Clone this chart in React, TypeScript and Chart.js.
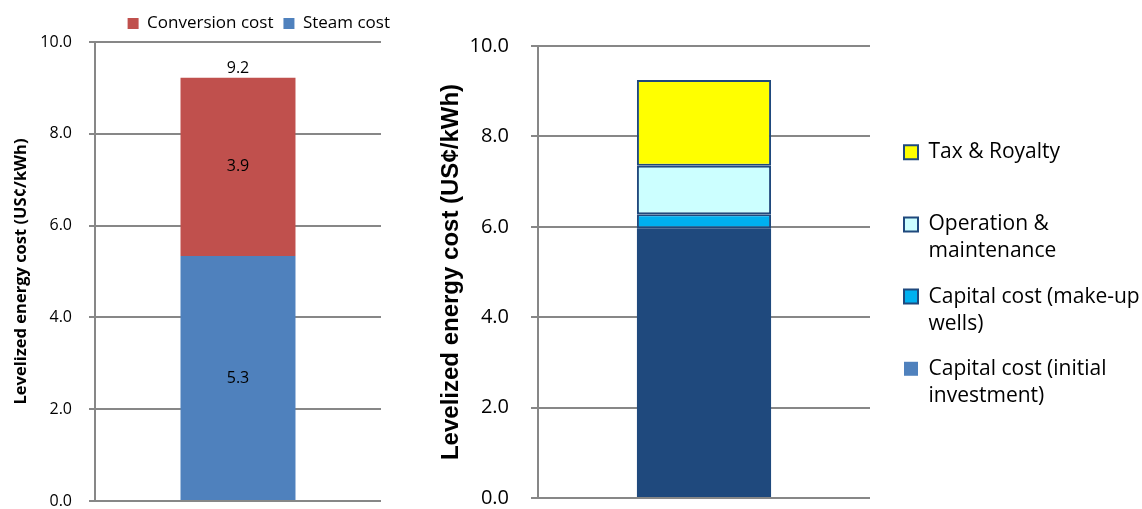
import React, { useEffect, useRef } from "react";
import { Chart, registerables } from "chart.js";

Chart.register(...registerables);

// ---------- Data: left chart ----------
const leftCategories = ["Plant"];
const steamCost = [5.34];
const conversionCost = [3.88];
const leftSeriesNames = ["Steam cost", "Conversion cost"];
const leftColors = ["#4F81BD", "#C0504D"];

// ---------- Data: right chart ----------
const rightCategories = ["Plant"];
const capitalInitial = [5.97];
const capitalMakeup = [0.31];
const operationMaintenance = [1.07];
const taxRoyalty = [1.9];
const rightSeriesNames = [
  "Capital cost (initial investment)",
  "Capital cost (make-up wells)",
  "Operation & maintenance",
  "Tax & Royalty",
];
const rightLegendLines = [
  ["Capital cost (initial", "investment)"],
  ["Capital cost (make-up", "wells)"],
  ["Operation &", "maintenance"],
  ["Tax & Royalty", " "],
];
const rightFill = ["#1F497D", "#00B0F0", "#CCFFFF", "#FFFF00"];
const rightLegendFill = ["#4F81BD", "#00B0F0", "#CCFFFF", "#FFFF00"];

const yAxisTitle = "Levelized energy cost (US¢/kWh)";
const yMin = 0;
const yMax = 10;
const yStep = 2;

const GRID = "#878787";

const valueLabels = {
  id: "valueLabels",
  afterDatasetsDraw(chart: any) {
    const ctx = chart.ctx;
    ctx.save();
    ctx.font = '16px "Open Sans"';
    ctx.fillStyle = "#000";
    ctx.textAlign = "center";
    ctx.textBaseline = "middle";
    let top = Infinity;
    let cx = 0;
    const totals: number[] = [];
    chart.data.datasets.forEach((ds: any, i: number) => {
      const meta = chart.getDatasetMeta(i);
      meta.data.forEach((el: any, j: number) => {
        const v = ds.data[j];
        totals[j] = (totals[j] || 0) + v;
        const p = el.getProps(["x", "y", "base"], true);
        ctx.fillText(v.toFixed(1), p.x, (p.y + p.base) / 2);
        if (p.y < top) {
          top = p.y;
          cx = p.x;
        }
      });
    });
    if (totals.length) ctx.fillText(totals[0].toFixed(1), cx, top - 9);
    ctx.restore();
  },
};

function LeftChart() {
  const ref = useRef<HTMLCanvasElement>(null);
  useEffect(() => {
    const chart = new Chart(ref.current as HTMLCanvasElement, {
      type: "bar",
      data: {
        labels: leftCategories,
        datasets: [
          {
            label: leftSeriesNames[0],
            data: steamCost,
            backgroundColor: leftColors[0],
            borderWidth: 0,
            categoryPercentage: 1,
            barPercentage: 0.402,
          },
          {
            label: leftSeriesNames[1],
            data: conversionCost,
            backgroundColor: leftColors[1],
            borderWidth: 0,
            categoryPercentage: 1,
            barPercentage: 0.402,
          },
        ],
      },
      plugins: [valueLabels],
      options: {
        responsive: false,
        animation: false,
        layout: { padding: { top: 5, bottom: 8, left: 0, right: 0 } },
        plugins: {
          tooltip: { enabled: false },
          legend: {
            position: "top",
            align: "end",
            reverse: true,
            labels: {
              font: { family: "Open Sans", size: 17 },
              color: "#000",
              boxWidth: 11,
              boxHeight: 11,
              padding: 10,
            },
          },
        },
        scales: {
          x: { stacked: true, display: false },
          y: {
            stacked: true,
            min: yMin,
            max: yMax,
            afterFit: (s: any) => {
              s.width = 95;
              s.paddingTop = 0;
              s.paddingBottom = 0;
            },
            ticks: {
              stepSize: yStep,
              padding: 17,
              color: "#000",
              font: { family: "Open Sans", size: 16 },
              callback: (v: any) => Number(v).toFixed(1),
            },
            grid: { color: GRID, lineWidth: 2, tickLength: 6 },
            border: { display: true, color: GRID, width: 2 },
            title: {
              display: true,
              text: yAxisTitle,
              color: "#000",
              font: { family: "Open Sans", size: 16.5, weight: "bold" },
              padding: { top: 11, bottom: 0 },
            },
          },
          spacer: {
            type: "linear",
            position: "right",
            display: true,
            afterFit: (s: any) => {
              s.width = 19;
              s.paddingTop = 0;
              s.paddingBottom = 0;
            },
            ticks: { display: false },
            grid: { display: false },
            border: { display: false },
          },
        },
      },
    } as any);
    return () => chart.destroy();
  }, []);
  return <canvas ref={ref} width={400} height={509} style={{ width: 400, height: 509 }} />;
}

function RightChart() {
  const ref = useRef<HTMLCanvasElement>(null);
  useEffect(() => {
    const values = [capitalInitial, capitalMakeup, operationMaintenance, taxRoyalty];
    const chart = new Chart(ref.current as HTMLCanvasElement, {
      type: "bar",
      data: {
        labels: rightCategories,
        datasets: values.map((d, i) => ({
          label: rightSeriesNames[i],
          data: d,
          backgroundColor: rightFill[i],
          borderColor: "#1F497D",
          borderWidth: i === 0 ? 0 : 2,
          borderSkipped: false,
          categoryPercentage: 1,
          barPercentage: 0.404,
        })),
      },
      options: {
        responsive: false,
        animation: false,
        layout: { padding: { top: 46, bottom: 11, left: 0, right: 0 } },
        plugins: {
          tooltip: { enabled: false },
          legend: {
            position: "right",
            align: "center",
            maxWidth: 256,
            title: { display: true, text: " ", font: { size: 1 }, padding: 4.5 },
            labels: {
              font: { family: "Open Sans", size: 21, lineHeight: 1.29 },
              color: "#000",
              boxWidth: 14,
              boxHeight: 14,
              padding: 18,
              generateLabels: () =>
                [3, 2, 1, 0].map((i) => ({
                  text: rightLegendLines[i],
                  fillStyle: rightLegendFill[i],
                  strokeStyle: "#1F497D",
                  lineWidth: i === 0 ? 0 : 2,
                  hidden: false,
                  datasetIndex: i,
                  fontColor: "#000",
                })),
            },
          },
        },
        scales: {
          x: { stacked: true, display: false },
          y: {
            stacked: true,
            min: yMin,
            max: yMax,
            afterFit: (s: any) => {
              s.width = 118;
              s.paddingTop = 0;
              s.paddingBottom = 0;
            },
            ticks: {
              stepSize: yStep,
              padding: 22,
              color: "#000",
              font: { family: "Open Sans", size: 20 },
              callback: (v: any) => Number(v).toFixed(1),
            },
            grid: { color: GRID, lineWidth: 2, tickLength: 7 },
            border: { display: true, color: GRID, width: 2 },
            title: {
              display: true,
              text: yAxisTitle,
              color: "#000",
              font: { family: "Liberation Sans", size: 24, weight: "bold" },
              padding: { top: 17, bottom: 0 },
            },
          },
          spacer: {
            type: "linear",
            position: "right",
            display: true,
            afterFit: (s: any) => {
              s.width = 16;
              s.paddingTop = 0;
              s.paddingBottom = 0;
            },
            ticks: { display: false },
            grid: { display: false },
            border: { display: false },
          },
        },
      },
    } as any);
    return () => chart.destroy();
  }, []);
  return <canvas ref={ref} width={722} height={509} style={{ width: 722, height: 509 }} />;
}

export default function App() {
  return (
    <div style={{ position: "absolute", left: 0, top: 0, width: 1142, height: 509, background: "#fff" }}>
      <div style={{ position: "absolute", left: 0, top: 0, width: 400, height: 509 }}>
        <LeftChart />
      </div>
      <div style={{ position: "absolute", left: 420, top: 0, width: 722, height: 509 }}>
        <RightChart />
      </div>
    </div>
  );
}
